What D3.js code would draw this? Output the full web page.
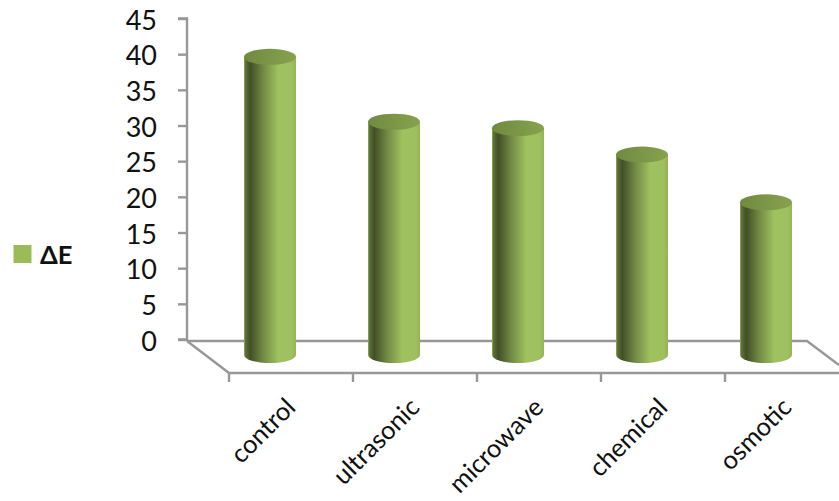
<!DOCTYPE html>
<html>
<head>
<meta charset="utf-8">
<script src="https://cdn.jsdelivr.net/npm/d3@7/dist/d3.min.js"></script>
<style>
html,body{margin:0;padding:0;background:#fff;overflow:hidden}
svg{display:block}
text{font-family:Lato,"Open Sans",sans-serif;fill:#111}
</style>
</head>
<body>
<svg id="chart" width="839" height="501"></svg>
<script>
const categories = ["control", "ultrasonic", "microwave", "chemical", "osmotic"];
const deltaE = [41.8, 32.7, 31.8, 28.1, 21.4];
const yTicks = [0, 5, 10, 15, 20, 25, 30, 35, 40, 45];
const seriesName = "ΔE";

const svg = d3.select("#chart");
const y = d3.scaleLinear().domain([0, 45]).range([339.5, 18.5]);
const x = d3.scaleBand().domain(categories).range([229, 849]).padding(0);

const wallX = 187;
const floorDrop = 32;   // vertical depth of the floor
const floorShift = 42;  // horizontal depth of the floor
const backRight = 807;
const barDrop = 15.5;   // bars stand halfway across the floor
const rx = 26, ry = 8;
const axisColor = "#989898";

// Cylinder shading
const defs = svg.append("defs");
const side = defs.append("linearGradient").attr("id", "side");
[[0, "#93b258"], [0.03, "#5d7035"], [0.12, "#434f27"], [0.38, "#738c45"], [0.66, "#a0c15f"], [0.92, "#9fc05e"], [1, "#93b356"]]
  .forEach(([o, c]) => side.append("stop").attr("offset", o).attr("stop-color", c));
const cap = defs.append("linearGradient").attr("id", "cap");
[[0, "#708a40"], [1, "#86a24e"]]
  .forEach(([o, c]) => cap.append("stop").attr("offset", o).attr("stop-color", c));

// Floor outline
const base = y(0) + 1.5;
const floor = svg.append("g").attr("fill", "none").attr("stroke", axisColor).attr("stroke-width", 2.4);
floor.append("path").attr("d", `M${wallX},${base}L${backRight},${base}L839,${base + 24}`);
floor.append("path").attr("d", `M${wallX},${base}L${wallX + floorShift},${base + floorDrop}L839,${base + floorDrop}`);
categories.forEach(c => {
  floor.append("line").attr("x1", x(c)).attr("x2", x(c))
    .attr("y1", base + floorDrop).attr("y2", base + floorDrop + 9);
});

// Value axis on the back wall
const yAxis = d3.axisLeft(y).tickValues(yTicks).tickSize(9).tickPadding(21);
const yG = svg.append("g").attr("transform", `translate(${wallX},0)`).call(yAxis);
yG.select(".domain").attr("stroke", axisColor).attr("stroke-width", 2.4)
  .attr("d", `M-9,${y(45)}H0V${y(0)}H-9`);
yG.selectAll(".tick line").attr("stroke", axisColor).attr("stroke-width", 2.4);
yG.selectAll(".tick text").attr("font-size", 27).attr("y", 2)
  .style("font-family", "Lato,sans-serif").attr("fill", "#111");

// Cylinders
const bars = svg.append("g").selectAll("g").data(categories).join("g")
  .attr("transform", c => `translate(${x(c) + 41},0)`);
const bottom = y(0) + barDrop;
bars.append("path")
  .attr("fill", "url(#side)")
  .attr("d", (c, i) => {
    const top = y(deltaE[i]) + barDrop;
    return `M${-rx},${top}V${bottom}A${rx},${ry} 0 0 0 ${rx},${bottom}V${top}Z`;
  });
bars.append("ellipse")
  .attr("cx", 0).attr("rx", rx).attr("ry", ry)
  .attr("cy", (c, i) => y(deltaE[i]) + barDrop)
  .attr("fill", "url(#cap)");

// Category labels, slanted
svg.append("g").selectAll("text").data(categories).join("text")
  .attr("text-anchor", "end")
  .attr("font-size", 25.5)
  .attr("transform", c => `translate(${x(c) + 68},409) rotate(-45)`)
  .text(c => c);

// Legend
svg.append("rect").attr("x", 13.5).attr("y", 245).attr("width", 18).attr("height", 18).attr("fill", "#9bbb59");
svg.append("text").attr("x", 40).attr("y", 263.5).attr("font-size", 25.5).attr("font-weight", 700).text(seriesName);
</script>
</body>
</html>
